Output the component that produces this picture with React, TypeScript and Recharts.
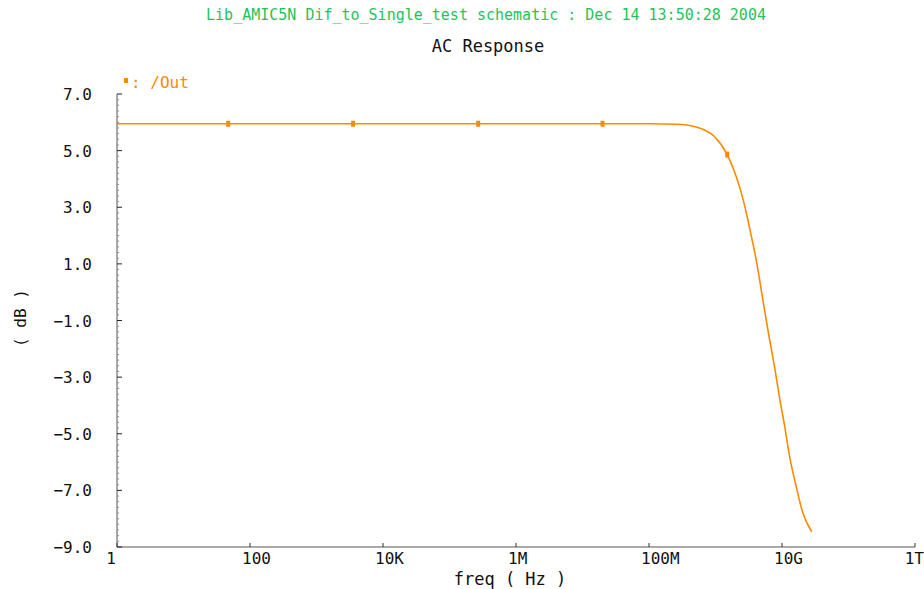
import React from 'react'
import { LineChart, Line, XAxis, YAxis } from 'recharts'

// AC sweep of /Out, dB vs frequency (Hz)
const freqs = [
  1, 10, 47, 100, 1e3, 3.55e3, 1e4, 1e5, 2.7e5, 1e6, 1e7, 2.0e7, 1e8, 2.7e8,
  4.3e8, 6.2e8, 9.7e8, 1.5e9, 2.3e9, 2.75e9, 3.3e9, 4.2e9, 4.9e9, 6.1e9, 7.8e9,
  9.3e9, 1.1e10, 1.3e10, 1.67e10, 2.0e10, 2.8e10,
]
const outDb = [
  5.95, 5.95, 5.95, 5.95, 5.95, 5.95, 5.95, 5.95, 5.95, 5.95, 5.95, 5.95, 5.95, 5.93,
  5.88, 5.77, 5.49, 4.86, 3.72, 3.05, 2.2, 1.0, 0.05, -1.3, -2.7,
  -3.8, -4.75, -5.8, -6.95, -7.7, -8.46,
]
const markerFreqs = [47, 3.55e3, 2.7e5, 2.0e7, 1.5e9]

const xTicks = [1, 1e2, 1e4, 1e6, 1e8, 1e10, 1e12]
const xTickLabels = ['1', '100', '10K', '1M', '100M', '10G', '1T']
const yTicks = [-9, -7, -5, -3, -1, 1, 3, 5, 7]
const yTickLabels = ['−9.0', '−7.0', '−5.0', '−3.0', '−1.0', '1.0', '3.0', '5.0', '7.0']
const yMinorStep = 0.2

const data = freqs.map((f, i) => ({ freq: f, out: outDb[i] }))
const yAllTicks = Array.from({ length: 81 }, (_, i) => Math.round((-9 + i * yMinorStep) * 10) / 10)

const ORANGE = '#ff8a00'
const AXIS = '#8c8c8c'
const FONT = '"DejaVu Sans Mono", monospace'

function XTick(props: any) {
  const { x, y, index } = props
  const last = index === xTicks.length - 1
  const first = index === 0
  const anchor = first || last ? 'end' : 'start'
  const tx = first ? x - 1 : last ? x + 9 : x - 8
  return (
    <g>
      <line x1={x} y1={y} x2={x} y2={y - 4} stroke="#333" strokeWidth={1} />
      <text x={tx} y={y + 17} textAnchor={anchor} fontSize={16} fontFamily={FONT} fill="#111">
        {xTickLabels[index]}
      </text>
    </g>
  )
}

function YTick(props: any) {
  const { x, y, payload } = props
  const v = payload.value
  const mi = yTicks.indexOf(v)
  const major = mi >= 0
  return (
    <g>
      <line x1={x} y1={y} x2={x + (major ? 5 : 2)} y2={y} stroke={major ? '#222' : AXIS} strokeWidth={1} />
      {major && (
        <text x={x - 25} y={y + 6} textAnchor="end" fontSize={16} fontFamily={FONT} fill="#111">
          {yTickLabels[mi]}
        </text>
      )}
    </g>
  )
}

function Marker(props: any) {
  const { cx, cy, payload, index } = props
  if (!markerFreqs.includes(payload.freq)) return <g key={'d' + index} />
  return <rect key={'d' + index} x={cx - 2} y={cy - 3} width={4} height={6} fill={ORANGE} />
}

export default function App() {
  return (
    <div style={{ position: 'absolute', left: 0, top: 0, width: 924, height: 589, background: '#fff' }}>
      <div
        style={{
          position: 'absolute', left: 486, top: 6, transform: 'translateX(-50%)', whiteSpace: 'pre',
          fontFamily: FONT, fontSize: 15, color: '#1fc35a',
        }}
      >
        Lib_AMIC5N Dif_to_Single_test schematic : Dec 14 13:50:28 2004
      </div>
      <div
        style={{
          position: 'absolute', left: 488, top: 36, transform: 'translateX(-50%)', whiteSpace: 'pre',
          fontFamily: FONT, fontSize: 17, color: '#111',
        }}
      >
        AC Response
      </div>
      <div
        style={{
          position: 'absolute', left: 124, top: 73, fontFamily: FONT, fontSize: 16, color: ORANGE,
          display: 'flex', alignItems: 'center', whiteSpace: 'pre',
        }}
      >
        <span style={{ display: 'inline-block', width: 4, height: 5, background: ORANGE, marginRight: 3, marginTop: -4 }} />
        <span>: /Out</span>
      </div>
      <LineChart
        width={924}
        height={589}
        data={data}
        margin={{ top: 94, right: 9, bottom: 0, left: 0 }}
      >
        <XAxis
          dataKey="freq"
          type="number"
          scale="log"
          domain={[1, 1e12]}
          ticks={xTicks}
          allowDataOverflow
          height={42}
          tickSize={0}
          tickMargin={0}
          axisLine={{ stroke: AXIS, strokeWidth: 1.5 }}
          tickLine={false}
          tick={<XTick />}
          interval={0}
        />
        <YAxis
          type="number"
          domain={[-9, 7]}
          ticks={yAllTicks}
          allowDataOverflow
          width={117}
          tickSize={0}
          tickMargin={0}
          axisLine={{ stroke: AXIS, strokeWidth: 1.5 }}
          tickLine={false}
          tick={<YTick />}
          interval={0}
        />
        <Line
          type="monotone"
          dataKey="out"
          stroke={ORANGE}
          strokeWidth={1.6}
          dot={<Marker />}
          activeDot={false}
          isAnimationActive={false}
        />
      </LineChart>
      <div
        style={{
          position: 'absolute', left: 510, top: 569, transform: 'translateX(-50%)',
          fontFamily: FONT, fontSize: 17, lineHeight: '20px', color: '#111', whiteSpace: 'pre',
        }}
      >
        freq ( Hz )
      </div>
      <div
        style={{
          position: 'absolute', left: 20, top: 318, transform: 'translate(-50%, -50%) rotate(-90deg)',
          fontFamily: FONT, fontSize: 16, color: '#111', whiteSpace: 'pre',
        }}
      >
        ( dB )
      </div>
    </div>
  )
}
